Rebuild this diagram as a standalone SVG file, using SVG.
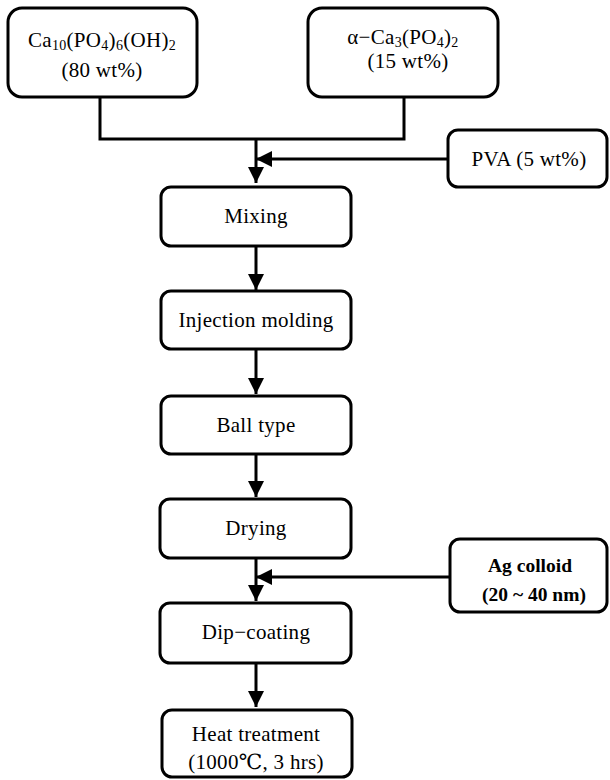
<svg xmlns="http://www.w3.org/2000/svg" width="610" height="780" viewBox="0 0 610 780">
<defs>
<style>
.box{fill:#fff;stroke:#000;stroke-width:3}
text{font-family:'Liberation Serif','DejaVu Serif',serif;font-size:21px;fill:#000;text-anchor:middle;letter-spacing:0.3px}
.b{font-weight:bold;font-size:19.5px;letter-spacing:0}
.ln{fill:none;stroke:#000;stroke-width:3}
.sub{font-size:14px}
</style>
<marker id="ah" markerUnits="userSpaceOnUse" markerWidth="18" markerHeight="18" viewBox="0 0 18 18" refX="17" refY="9" orient="auto">
<path d="M1,1 L17,9 L1,17 Z" fill="#000"/>
</marker>
</defs>
<rect width="610" height="780" fill="#fff"/>
<g id="connectors">
<path class="ln" d="M100,97 V139 H404 V97"/>
<path class="ln" d="M256,139 V183" marker-end="url(#ah)"/>
<path class="ln" d="M448,159 H256" marker-end="url(#ah)"/>
<path class="ln" d="M256,246 V290" marker-end="url(#ah)"/>
<path class="ln" d="M256,349 V394" marker-end="url(#ah)"/>
<path class="ln" d="M256,454 V497" marker-end="url(#ah)"/>
<path class="ln" d="M256,558 V601" marker-end="url(#ah)"/>
<path class="ln" d="M450,577 H256" marker-end="url(#ah)"/>
<path class="ln" d="M256,663 V707" marker-end="url(#ah)"/>
</g>
<g id="hap">
<rect class="box" x="8" y="8" width="189" height="89" rx="14"/>
<text x="102" y="47">Ca<tspan class="sub" dy="3">10</tspan><tspan dy="-3">(PO</tspan><tspan class="sub" dy="3">4</tspan><tspan dy="-3">)</tspan><tspan class="sub" dy="3">6</tspan><tspan dy="-3">(OH)</tspan><tspan class="sub" dy="3">2</tspan></text>
<text x="102" y="77">(80 wt%)</text>
</g>
<g id="tcp">
<rect class="box" x="308" y="8" width="190" height="89" rx="14"/>
<text x="403" y="44">α−Ca<tspan class="sub" dy="3">3</tspan><tspan dy="-3">(PO</tspan><tspan class="sub" dy="3">4</tspan><tspan dy="-3">)</tspan><tspan class="sub" dy="3">2</tspan></text>
<text x="408" y="68">(15 wt%)</text>
</g>
<g id="pva">
<rect class="box" x="448" y="130" width="159" height="57" rx="10"/>
<text x="529" y="166">PVA (5 wt%)</text>
</g>
<g id="mixing">
<rect class="box" x="161" y="187" width="190" height="59" rx="10"/>
<text x="256" y="223">Mixing</text>
</g>
<g id="injection">
<rect class="box" x="161" y="291" width="190" height="58" rx="10"/>
<text x="256" y="327">Injection molding</text>
</g>
<g id="ball">
<rect class="box" x="161" y="396" width="190" height="58" rx="10"/>
<text x="256" y="432">Ball type</text>
</g>
<g id="drying">
<rect class="box" x="160" y="499" width="191" height="59" rx="10"/>
<text x="256" y="535">Drying</text>
</g>
<g id="ag">
<rect class="box" x="450" y="539" width="157" height="73" rx="10"/>
<text class="b" x="530" y="572">Ag colloid</text>
<text class="b" x="534" y="601">(20 ~ 40 nm)</text>
</g>
<g id="dip">
<rect class="box" x="160" y="603" width="191" height="60" rx="10"/>
<text x="256" y="639">Dip−coating</text>
</g>
<g id="heat">
<rect class="box" x="162" y="710" width="190" height="67" rx="10"/>
<text x="256" y="741">Heat treatment</text>
<text x="256" y="769">(1000℃, 3 hrs)</text>
</g>
</svg>
